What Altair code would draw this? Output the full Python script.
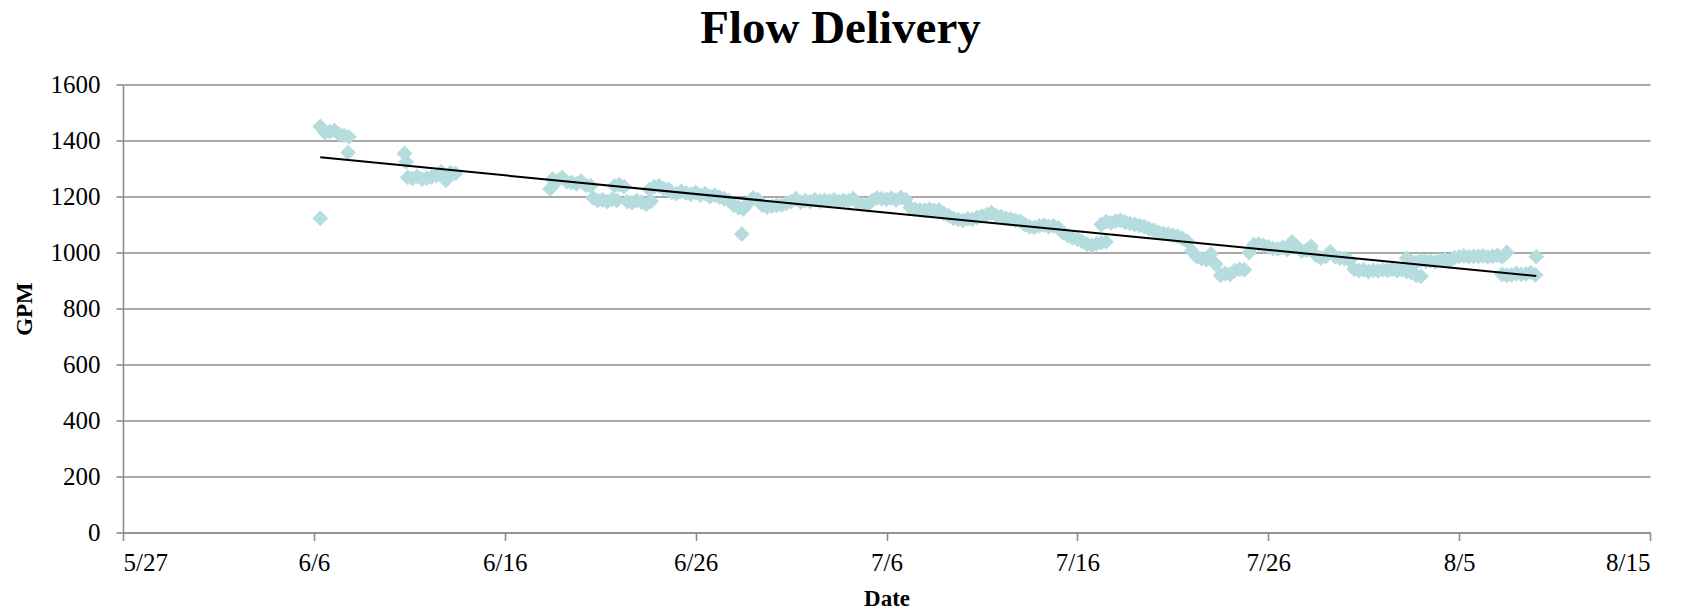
import altair as alt
import pandas as pd

# ---- data (GPM readings, 6-hour steps within each run) ----
seg_starts = [
    "2013-06-06T08:00:00", "2013-06-10T22:00:00", "2013-06-18T12:00:00",
    "2013-06-20T15:00:00", "2013-06-21T18:00:00", "2013-06-22T10:00:00",
    "2013-06-23T14:00:00", "2013-06-24T18:00:00", "2013-06-28T00:00:00",
    "2013-07-09T00:00:00", "2013-07-17T06:00:00", "2013-07-22T00:00:00",
    "2013-07-24T06:00:00", "2013-07-30T12:00:00", "2013-08-02T06:00:00",
    "2013-08-07T06:00:00",
]
seg_A = [1450, 1428, 1432, 1435, 1422, 1418, 1413]
seg_C = [1268, 1265, 1272, 1262, 1266, 1270, 1275, 1288, 1258, 1285, 1282]
seg_D = [1262, 1255, 1268, 1252, 1250, 1245, 1255, 1240, 1238]
seg_E = [1195, 1185, 1188, 1182, 1190, 1186]
seg_F = [1238, 1242, 1235]
seg_G = [1182, 1178, 1185, 1180, 1172, 1183]
seg_H = [1225, 1235, 1238, 1228, 1225]
seg_I = [1215, 1210, 1218, 1212, 1208, 1215, 1205, 1210, 1200, 1205, 1198, 1192, 1185]
seg_J = [1168, 1160, 1155, 1175, 1195, 1190, 1168, 1162, 1165, 1168, 1170, 1175,
         1182, 1192, 1180, 1185, 1182, 1188, 1183, 1186, 1184, 1188, 1182, 1186,
         1184, 1192, 1178, 1172, 1170, 1185, 1195, 1192, 1190, 1194, 1188, 1196,
         1190, 1160, 1155, 1152, 1150, 1155, 1150, 1152]
seg_K = [1140, 1132, 1122, 1118, 1115, 1120, 1118, 1125, 1130, 1135, 1142, 1132,
         1128, 1122, 1120, 1115, 1112, 1100, 1092, 1090, 1095, 1098, 1092, 1095,
         1088, 1070, 1060, 1052, 1048, 1040, 1030, 1025, 1032, 1035, 1038]
seg_L = [1100, 1110, 1106, 1112, 1115, 1108, 1104, 1100, 1096, 1092, 1085, 1080,
         1072, 1068, 1066, 1062, 1058, 1050, 1040]
seg_N = [1005, 985, 978, 975, 995, 958, 918, 925, 922]
seg_O = [935, 940, 938, 1000, 1028, 1030, 1025, 1020, 1015, 1012, 1018, 1010,
         1038, 1020, 1005, 1008, 1022, 990, 980, 985, 1002, 985, 980, 978, 972]
seg_P = [940, 935, 938, 932, 936, 934, 938, 936, 940, 935, 938, 932, 928, 918, 915]
seg_Q = [980, 968, 965, 972, 968, 970, 966, 972, 975, 968, 982, 985, 988, 984,
         986, 985, 988, 984, 986, 990, 984, 1000]
seg_R = [922, 918, 920, 925, 922, 924, 928, 920]
segments = [seg_A, seg_C, seg_D, seg_E, seg_F, seg_G, seg_H, seg_I, seg_J,
            seg_K, seg_L, seg_N, seg_O, seg_P, seg_Q, seg_R]

single_times = ["2013-06-06T08:00:00", "2013-06-07T19:00:00", "2013-06-10T18:00:00",
                "2013-06-10T20:00:00", "2013-06-18T09:00:00", "2013-06-28T10:00:00",
                "2013-08-09T01:00:00"]
single_values = [1122, 1357, 1354, 1324, 1227, 1066, 985]

trend_times = ["2013-06-06T08:00:00", "2013-08-09T01:00:00"]
trend_values = [1340, 916]

tick_dates = ["2013-05-27", "2013-06-06", "2013-06-16", "2013-06-26", "2013-07-06",
              "2013-07-16", "2013-07-26", "2013-08-05", "2013-08-15"]
y_ticks = [0, 200, 400, 600, 800, 1000, 1200, 1400, 1600]

# ---- build tables ----
rows = []
for start, vals in zip(seg_starts, segments):
    t0 = pd.Timestamp(start)
    for i, v in enumerate(vals):
        rows.append({"t": (t0 + pd.Timedelta(hours=6 * i)).strftime("%Y-%m-%dT%H:%M:%SZ"), "gpm": v})
for t, v in zip(single_times, single_values):
    rows.append({"t": t + "Z", "gpm": v})
pts = pd.DataFrame(rows)
trend = pd.DataFrame({"t": [t + "Z" for t in trend_times], "gpm": trend_values})


def dt(s):
    d = pd.Timestamp(s)
    return alt.DateTime(year=d.year, month=d.month, date=d.day, utc=True)


x_scale = alt.Scale(type="utc", domain=[dt(tick_dates[0]), dt(tick_dates[-1])], nice=False)
y_scale = alt.Scale(domain=[0, 1600], nice=False)

x_enc = alt.X("t:T", scale=x_scale, title="Date",
              axis=alt.Axis(values=[dt(s) for s in tick_dates],
                            labelExpr="utcFormat(datum.value, '%-m/%-d')",
                            grid=False, tickSize=8, labelPadding=10, titlePadding=12))
y_enc = alt.Y("gpm:Q", scale=y_scale, title="GPM",
              axis=alt.Axis(values=y_ticks, format="d", tickSize=7, labelPadding=16,
                            titlePadding=14))

points = alt.Chart(pts).mark_point(shape="diamond", filled=True, size=150,
                                   color="#b5dcdf", stroke="#b5dcdf", strokeWidth=2.5,
                                   opacity=1).encode(x=x_enc, y=y_enc)
line = alt.Chart(trend).mark_line(color="black", strokeWidth=2).encode(x="t:T", y="gpm:Q")

chart = alt.layer(points, line).properties(
    width=1527, height=448,
    autosize="none",
    padding={"left": 123, "top": 84.5, "right": 40, "bottom": 82.5},
    background="white",
    title=alt.TitleParams("Flow Delivery", font="Liberation Serif", fontSize=47,
                          fontWeight="bold", color="black", anchor="middle",
                          dx=-46, offset=20),
).configure_view(stroke=None).configure_axis(
    gridColor="#8c8c8c", gridWidth=1.6, domainColor="#8c8c8c", domainWidth=1.6,
    tickColor="#8c8c8c", tickWidth=1.6,
    labelFont="Liberation Serif", labelFontSize=25, labelColor="black",
    titleFont="Liberation Serif", titleFontSize=23, titleFontWeight="bold", titleColor="black",
)

chart.save("out.html", embed_options={"renderer": "svg", "actions": False})
